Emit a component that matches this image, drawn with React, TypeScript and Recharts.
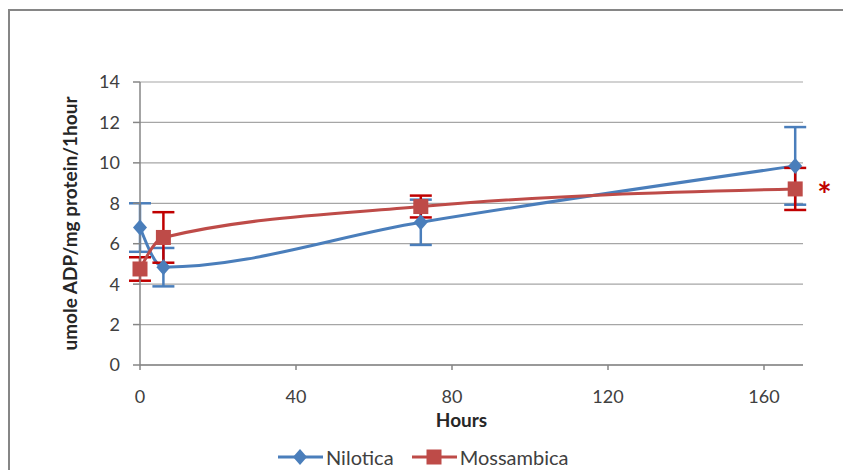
import React from 'react'
import { CartesianGrid, ErrorBar, Label, Line, LineChart, XAxis, YAxis } from 'recharts'

const hours = [0, 6, 72, 168]
const nilotica = [6.8, 4.84, 7.06, 9.85]
const niloticaErr = [1.2, 0.95, 1.12, 1.92]
const mossambica = [4.75, 6.31, 7.84, 8.71]
const mossambicaErr = [0.58, 1.25, 0.54, 1.04]
const seriesNames = ['Nilotica', 'Mossambica']
const xTicks = [0, 40, 80, 120, 160]
const yTicks = [0, 2, 4, 6, 8, 10, 12, 14]

const BLUE = '#4A7EBB'
const RED = '#BE4B48'
const RED_ERR = '#C00000'
const AXIS = '#868686'
const FONT = 'Lato, "Open Sans", sans-serif'

const data = hours.map((h, i) => ({
  hours: h,
  nilotica: nilotica[i],
  nErr: niloticaErr[i],
  mossambica: mossambica[i],
  mErr: mossambicaErr[i],
}))

function Diamond({ cx, cy }: { cx?: number; cy?: number }) {
  if (cx == null || cy == null) return null
  return <path d={`M${cx},${cy - 8}L${cx + 7},${cy}L${cx},${cy + 8}L${cx - 7},${cy}Z`} fill={BLUE} />
}

function Square({ cx, cy }: { cx?: number; cy?: number }) {
  if (cx == null || cy == null) return null
  return <rect x={cx - 7.5} y={cy - 7.5} width={15} height={15} fill={RED} />
}

// red asterisk next to the last Mossambica point
function Star(props: { x?: number; y?: number; index?: number }) {
  if (props.index !== hours.length - 1 || props.x == null || props.y == null) return null
  return (
    <text x={props.x + 22} y={props.y + 18} fill={RED_ERR} fontSize={34} fontWeight="bold" fontFamily={FONT}>
      *
    </text>
  )
}

export default function App() {
  const tickStyle = { fill: '#404040', fontSize: 18, fontFamily: FONT }
  return (
    <div style={{ position: 'absolute', left: 0, top: 0, width: 843, height: 470, background: '#fff', overflow: 'hidden' }}>
      <div
        style={{
          position: 'absolute',
          left: 8,
          top: 9,
          width: 860,
          height: 480,
          borderLeft: `2px solid ${AXIS}`,
          borderTop: `2px solid ${AXIS}`,
        }}
      />
      <LineChart width={843} height={470} data={data} margin={{ top: 82, right: 40, bottom: 0, left: 0 }}>
        <CartesianGrid vertical={false} stroke="#A6A6A6" strokeWidth={1.2} />
        <XAxis
          dataKey="hours"
          type="number"
          domain={[0, 170]}
          ticks={xTicks}
          height={105}
          tick={tickStyle}
          tickSize={5}
          tickMargin={20}
          stroke={AXIS}
          strokeWidth={1.5}
        >
          <Label value="Hours" position="center" dx={-10} dy={3} fill="#262626" fontSize={19} fontWeight="bold" fontFamily={FONT} />
        </XAxis>
        <YAxis
          domain={[0, 14]}
          ticks={yTicks}
          width={140}
          tick={tickStyle}
          tickSize={7}
          tickMargin={13}
          stroke={AXIS}
          strokeWidth={1.5}
        >
          <Label
            value="umole ADP/mg protein/1hour"
            position="center"
            angle={-90}
            fill="#262626"
            fontSize={19}
            fontWeight="bold"
            fontFamily={FONT}
          />
        </YAxis>
        <Line
          dataKey="nilotica"
          type="monotone"
          stroke={BLUE}
          strokeWidth={3}
          dot={<Diamond />}
          activeDot={false}
          isAnimationActive={false}
        >
          <ErrorBar dataKey="nErr" width={11} stroke={BLUE} strokeWidth={2.5} />
        </Line>
        <Line
          dataKey="mossambica"
          type="monotone"
          stroke={RED}
          strokeWidth={3}
          dot={<Square />}
          activeDot={false}
          label={<Star />}
          isAnimationActive={false}
        >
          <ErrorBar dataKey="mErr" width={11} stroke={RED_ERR} strokeWidth={2.5} />
        </Line>
      </LineChart>
      <div
        style={{
          position: 'absolute',
          left: 278,
          top: 445,
          display: 'flex',
          alignItems: 'center',
          fontFamily: FONT,
          fontSize: 20,
          color: '#404040',
        }}
      >
        {seriesNames.map((name, i) => (
          <div key={name} style={{ display: 'flex', alignItems: 'center', marginRight: 18 }}>
            <svg width={46} height={22}>
              <line x1={0} y1={11} x2={45} y2={11} stroke={i === 0 ? BLUE : RED} strokeWidth={3} />
              {i === 0 ? <Diamond cx={22} cy={11} /> : <Square cx={22} cy={11} />}
            </svg>
            <span style={{ marginLeft: 2 }}>{name}</span>
          </div>
        ))}
      </div>
    </div>
  )
}
